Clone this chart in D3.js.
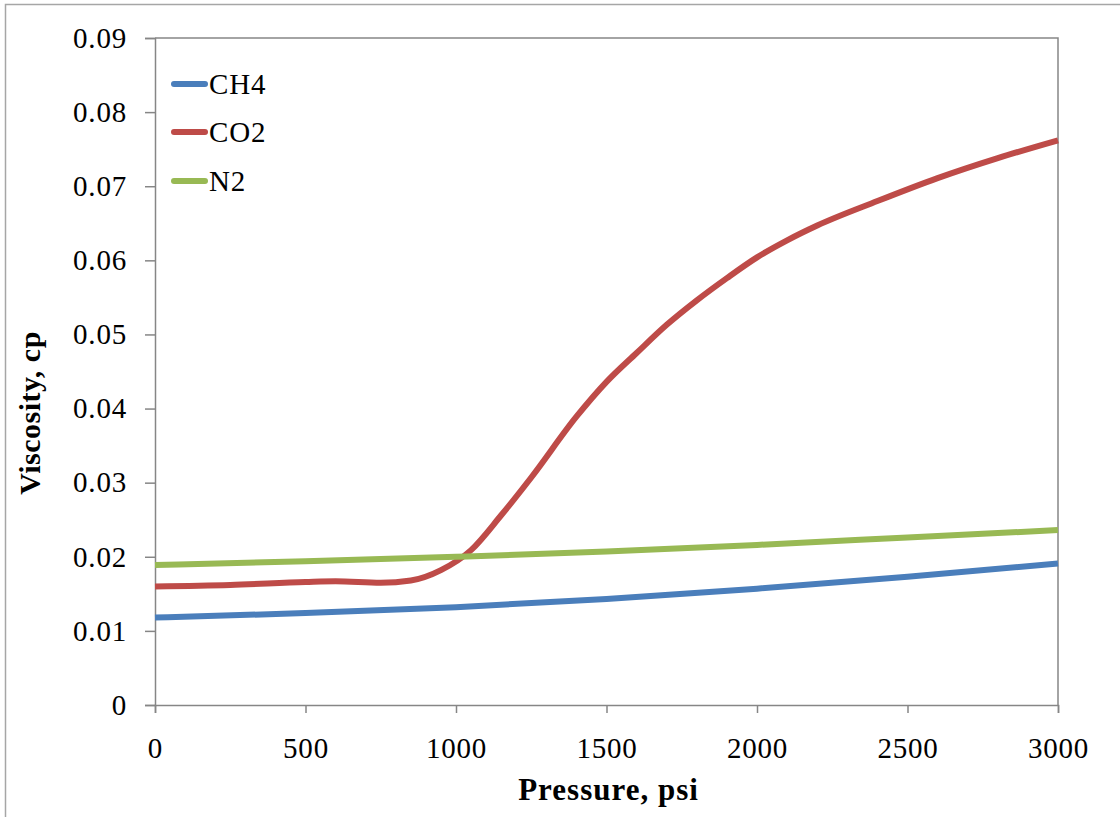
<!DOCTYPE html>
<html>
<head>
<meta charset="utf-8">
<script src="https://cdn.jsdelivr.net/npm/d3@7"></script>
<style>
  html, body { margin: 0; padding: 0; background: #fff; }
  svg { display: block; }
  text { font-family: "Liberation Serif", "DejaVu Serif", serif; fill: #000; }
</style>
</head>
<body>
<svg id="chart" width="1120" height="817"></svg>
<script>
// ---- data ----
const seriesNames = ["CH4", "CO2", "N2"];
const seriesColors = ["#4A7EBB", "#BE4B48", "#98B954"];

const ch4Pressure = [0, 500, 1000, 1500, 2000, 2500, 3000];
const ch4Viscosity = [0.0118, 0.0124, 0.0132, 0.0143, 0.0157, 0.0173, 0.0191];

const co2Pressure = [0, 250, 500, 600, 750, 850, 950, 1050, 1150, 1250, 1400, 1500, 1600, 1700, 1800, 1900, 2000, 2100, 2200, 2400, 2600, 2800, 3000];
const co2Viscosity = [0.0160, 0.0162, 0.0166, 0.0167, 0.0165, 0.0168, 0.0182, 0.0209, 0.0256, 0.0307, 0.0389, 0.0436, 0.0475, 0.0513, 0.0546, 0.0576, 0.0604, 0.0627, 0.0647, 0.0680, 0.0711, 0.0738, 0.0762];

const n2Pressure = [0, 500, 1000, 1500, 2000, 2500, 3000];
const n2Viscosity = [0.0189, 0.0194, 0.0200, 0.0207, 0.0216, 0.0226, 0.0236];

const xTicks = [0, 500, 1000, 1500, 2000, 2500, 3000];
const yTicks = [0, 0.01, 0.02, 0.03, 0.04, 0.05, 0.06, 0.07, 0.08, 0.09];

const xTitle = "Pressure, psi";
const yTitle = "Viscosity, cp";

// ---- layout ----
const svg = d3.select("#chart");
const mLeft = 155, mRight = 1058, mTop = 38, mBottom = 705;

const x = d3.scaleLinear().domain([0, 3000]).range([mLeft, mRight]);
const y = d3.scaleLinear().domain([0, 0.09]).range([mBottom, mTop]);

// outer chart border
svg.append("rect")
  .attr("x", 5.5).attr("y", 4.5).attr("width", 1300).attr("height", 1000)
  .attr("fill", "none").attr("stroke", "#a6a6a6").attr("stroke-width", 1.5);

// plot frame (top + right)
svg.append("path")
  .attr("d", `M${mLeft},${mTop}H${mRight}V${mBottom}`)
  .attr("fill", "none").attr("stroke", "#868686").attr("stroke-width", 1.5);

// axes
const xAxis = d3.axisBottom(x).tickValues(xTicks).tickSize(8).tickPadding(24).tickFormat(d3.format("d"));
const yAxis = d3.axisLeft(y).tickValues(yTicks).tickSize(10).tickPadding(18)
  .tickFormat(d => d === 0 ? "0" : d3.format(".2f")(d));

const gx = svg.append("g").attr("transform", `translate(0,${mBottom})`).call(xAxis);
const gy = svg.append("g").attr("transform", `translate(${mLeft},0)`).call(yAxis);

[gx, gy].forEach(g => {
  g.select(".domain").attr("stroke", "#868686").attr("stroke-width", 1.5);
  g.selectAll(".tick line").attr("stroke", "#868686").attr("stroke-width", 1.5);
  g.selectAll(".tick text")
    .attr("font-family", '"Liberation Serif", serif')
    .attr("font-size", 29).attr("letter-spacing", "0.8px").attr("fill", "#000");
});
gx.selectAll(".tick text").attr("dy", "0.71em");

// axis titles
svg.append("text")
  .attr("x", (mLeft + mRight) / 2 + 2).attr("y", 800)
  .attr("text-anchor", "middle")
  .attr("font-size", 31).attr("letter-spacing", "1px").attr("font-weight", "bold")
  .text(xTitle);

svg.append("text")
  .attr("transform", `translate(40,${413}) rotate(-90)`)
  .attr("text-anchor", "middle")
  .attr("font-size", 30).attr("letter-spacing", "0.5px").attr("font-weight", "bold")
  .text(yTitle);

// lines
const series = [
  { name: seriesNames[0], color: seriesColors[0], px: ch4Pressure, vy: ch4Viscosity },
  { name: seriesNames[1], color: seriesColors[1], px: co2Pressure, vy: co2Viscosity },
  { name: seriesNames[2], color: seriesColors[2], px: n2Pressure, vy: n2Viscosity }
];

const line = d3.line()
  .x(d => x(d[0])).y(d => y(d[1]))
  .curve(d3.curveMonotoneX);

series.forEach(s => {
  const pts = s.px.map((p, i) => [p, s.vy[i]]);
  svg.append("path")
    .datum(pts)
    .attr("d", line)
    .attr("fill", "none")
    .attr("stroke", s.color)
    .attr("stroke-width", 6)
    .attr("stroke-linejoin", "round");
});

// legend
const legY = [84, 132, 181];
series.forEach((s, i) => {
  svg.append("line")
    .attr("x1", 174).attr("x2", 205)
    .attr("y1", legY[i]).attr("y2", legY[i])
    .attr("stroke", s.color).attr("stroke-width", 6)
    .attr("stroke-linecap", "round");
  svg.append("text")
    .attr("x", 209).attr("y", legY[i])
    .attr("dy", "0.35em")
    .attr("font-size", 29).attr("letter-spacing", "0.8px")
    .text(s.name);
});
</script>
</body>
</html>
